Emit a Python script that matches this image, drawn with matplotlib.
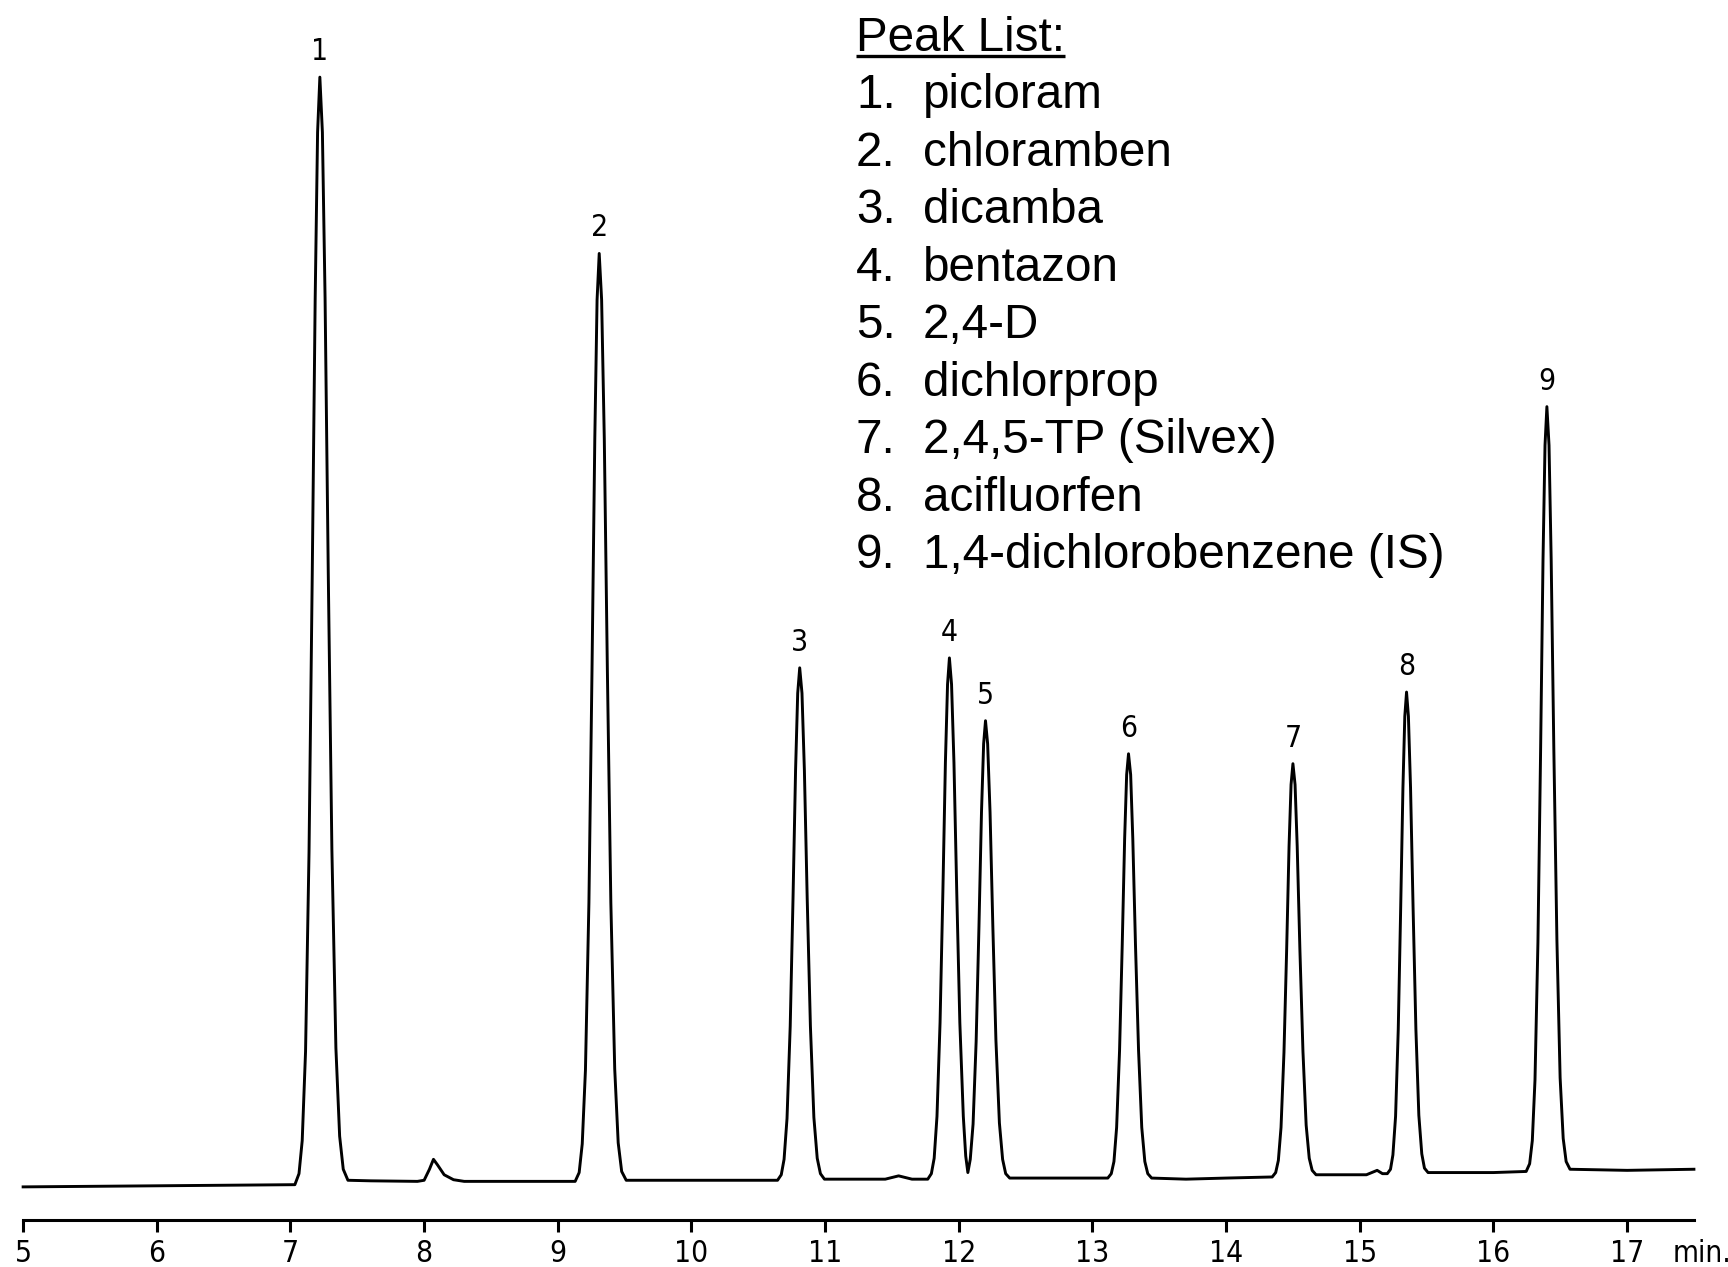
import matplotlib
matplotlib.use('Agg')
import matplotlib.pyplot as plt

# chromatogram trace (time in min, signal in arbitrary units)
time_min = [
    5.00, 6.00, 6.50,
    7.033, 7.064, 7.088, 7.113, 7.139, 7.163, 7.185, 7.203, 7.22,
    7.239, 7.259, 7.283, 7.310, 7.340, 7.368, 7.395, 7.430,
    7.60, 7.95, 8.00, 8.04, 8.07, 8.10, 8.15, 8.22, 8.30, 8.80,
    9.130, 9.160, 9.183, 9.207, 9.233, 9.256, 9.277, 9.294, 9.31,
    9.328, 9.348, 9.371, 9.397, 9.426, 9.452, 9.478, 9.512,
    9.70, 10.30,
    10.644, 10.672, 10.693, 10.715, 10.739, 10.760, 10.779, 10.795, 10.81,
    10.827, 10.845, 10.866, 10.890, 10.916, 10.941, 10.965, 10.995,
    11.45, 11.55, 11.65,
    11.768, 11.795, 11.816, 11.837, 11.860, 11.881, 11.900, 11.916, 11.93,
    11.946, 11.964, 11.985, 12.008, 12.034, 12.052, 12.068,
    12.086, 12.107, 12.130, 12.151, 12.170, 12.186, 12.20,
    12.216, 12.234, 12.255, 12.278, 12.304, 12.328, 12.351, 12.381,
    12.80,
    13.115, 13.141, 13.161, 13.181, 13.203, 13.223, 13.241, 13.256, 13.27,
    13.286, 13.302, 13.322, 13.345, 13.369, 13.392, 13.414, 13.443,
    13.70, 14.00,
    14.345, 14.371, 14.391, 14.411, 14.433, 14.453, 14.471, 14.486, 14.50,
    14.516, 14.532, 14.552, 14.575, 14.599, 14.622, 14.644, 14.673,
    14.80, 15.05, 15.10, 15.13, 15.17,
    15.206, 15.230, 15.248, 15.268, 15.288, 15.306, 15.323, 15.337, 15.35,
    15.364, 15.380, 15.399, 15.420, 15.442, 15.464, 15.484, 15.511,
    16.00,
    16.245, 16.271, 16.291, 16.311, 16.333, 16.353, 16.371, 16.386, 16.40,
    16.416, 16.432, 16.452, 16.475, 16.499, 16.522, 16.544, 16.573,
    17.00, 17.50,
]
signal = [
    0.30, 0.40, 0.45,
    0.5, 1.5, 4.5, 12.6, 30.7, 55.8, 80.9, 96.0, 101.0,
    96.0, 81.0, 55.9, 30.9, 12.9, 4.9, 1.9, 0.9,
    0.85, 0.80, 0.90, 1.90, 2.80, 2.30, 1.40, 0.95, 0.80, 0.80,
    0.8, 1.6, 4.2, 10.9, 26.1, 47.1, 68.2, 80.8, 85.0,
    80.8, 68.2, 47.2, 26.1, 11.0, 4.3, 1.7, 0.9,
    0.90, 0.90,
    0.9, 1.4, 2.8, 6.5, 14.9, 26.5, 38.1, 45.1, 47.4,
    45.1, 38.1, 26.5, 14.9, 6.6, 2.9, 1.5, 1.0,
    1.00, 1.30, 1.00,
    1.0, 1.5, 2.9, 6.7, 15.2, 27.0, 38.8, 45.9, 48.3,
    45.9, 38.8, 27.0, 15.2, 6.7, 3.1, 1.6,
    2.8, 6.0, 13.5, 23.9, 34.3, 40.5, 42.6,
    40.5, 34.3, 23.9, 13.6, 6.1, 2.8, 1.5, 1.1,
    1.10,
    1.1, 1.5, 2.6, 5.7, 12.7, 22.3, 31.9, 37.7, 39.6,
    37.7, 31.9, 22.3, 12.7, 5.7, 2.6, 1.5, 1.1,
    1.00, 1.10,
    1.2, 1.6, 2.7, 5.7, 12.5, 21.8, 31.2, 36.8, 38.7,
    36.8, 31.2, 21.9, 12.6, 5.9, 2.9, 1.8, 1.4,
    1.40, 1.40, 1.65, 1.80, 1.50,
    1.5, 1.9, 3.2, 6.7, 14.6, 25.5, 36.5, 43.0, 45.2,
    43.0, 36.5, 25.6, 14.6, 6.8, 3.3, 2.0, 1.6,
    1.60,
    1.7, 2.4, 4.5, 10.0, 22.5, 39.9, 57.2, 67.6, 71.1,
    67.6, 57.3, 40.0, 22.7, 10.2, 4.7, 2.6, 1.9,
    1.80, 1.90,
]

peak_ids = ['1', '2', '3', '4', '5', '6', '7', '8', '9']
peak_times = [7.22, 9.31, 10.81, 11.93, 12.20, 13.27, 14.50, 15.35, 16.40]
peak_tops = [101.0, 85.0, 47.4, 48.3, 42.6, 39.6, 38.7, 45.2, 71.1]

compounds = ['picloram', 'chloramben', 'dicamba', 'bentazon', '2,4-D',
             'dichlorprop', '2,4,5-TP (Silvex)', 'acifluorfen',
             '1,4-dichlorobenzene (IS)']

x_ticks = list(range(5, 18))

narrow = ['DejaVu Sans']
arial = ['Liberation Sans', 'DejaVu Sans']

fig = plt.figure(figsize=(17.28, 12.67), dpi=100)
ax = fig.add_axes([0, 0, 1, 1])
ax.plot(time_min, signal, color='black', lw=2.1, solid_joinstyle='round')
ax.set_xlim(4.827, 17.755)
ax.set_ylim(-6.97, 108.0)

for s in ['left', 'right', 'top']:
    ax.spines[s].set_visible(False)
ax.spines['bottom'].set_position(('data', -2.7))
ax.spines['bottom'].set_bounds(5, 17.5)
ax.spines['bottom'].set_linewidth(2.2)
ax.yaxis.set_visible(False)

ax.set_xticks(x_ticks)
ax.set_xticklabels([str(t) for t in x_ticks], fontfamily=narrow, fontstretch='condensed')
ax.tick_params(axis='x', direction='out', length=8.5, width=2.2, pad=5, labelsize=21.5)
ax.text(17.34, -5.79, 'min.', ha='left', va='center', fontsize=21.5,
        family=narrow, stretch='condensed')

for pid, t, top in zip(peak_ids, peak_times, peak_tops):
    ax.annotate(pid, (t, top), xytext=(0, 8), textcoords='offset points',
                ha='center', va='bottom', fontsize=21.5, family=narrow, stretch='condensed')

# peak list
x_num, x_name = 11.231, 11.732
y0, dy = 103.4, 5.22
head = ax.text(x_num, y0, 'Peak List:', va='baseline', ha='left', fontsize=34.3, family=arial)
for i, name in enumerate(compounds):
    y = y0 - dy * (i + 1)
    ax.text(x_num, y, f'{i + 1}.', va='baseline', ha='left', fontsize=34.3, family=arial)
    ax.text(x_name, y, name, va='baseline', ha='left', fontsize=34.3, family=arial)

fig.canvas.draw()
bb = head.get_window_extent().transformed(ax.transData.inverted())
ax.plot([x_num, bb.x1], [y0 - 0.45, y0 - 0.45], color='black', lw=2.4, solid_capstyle='butt')

fig.savefig('out.png', dpi=100)
